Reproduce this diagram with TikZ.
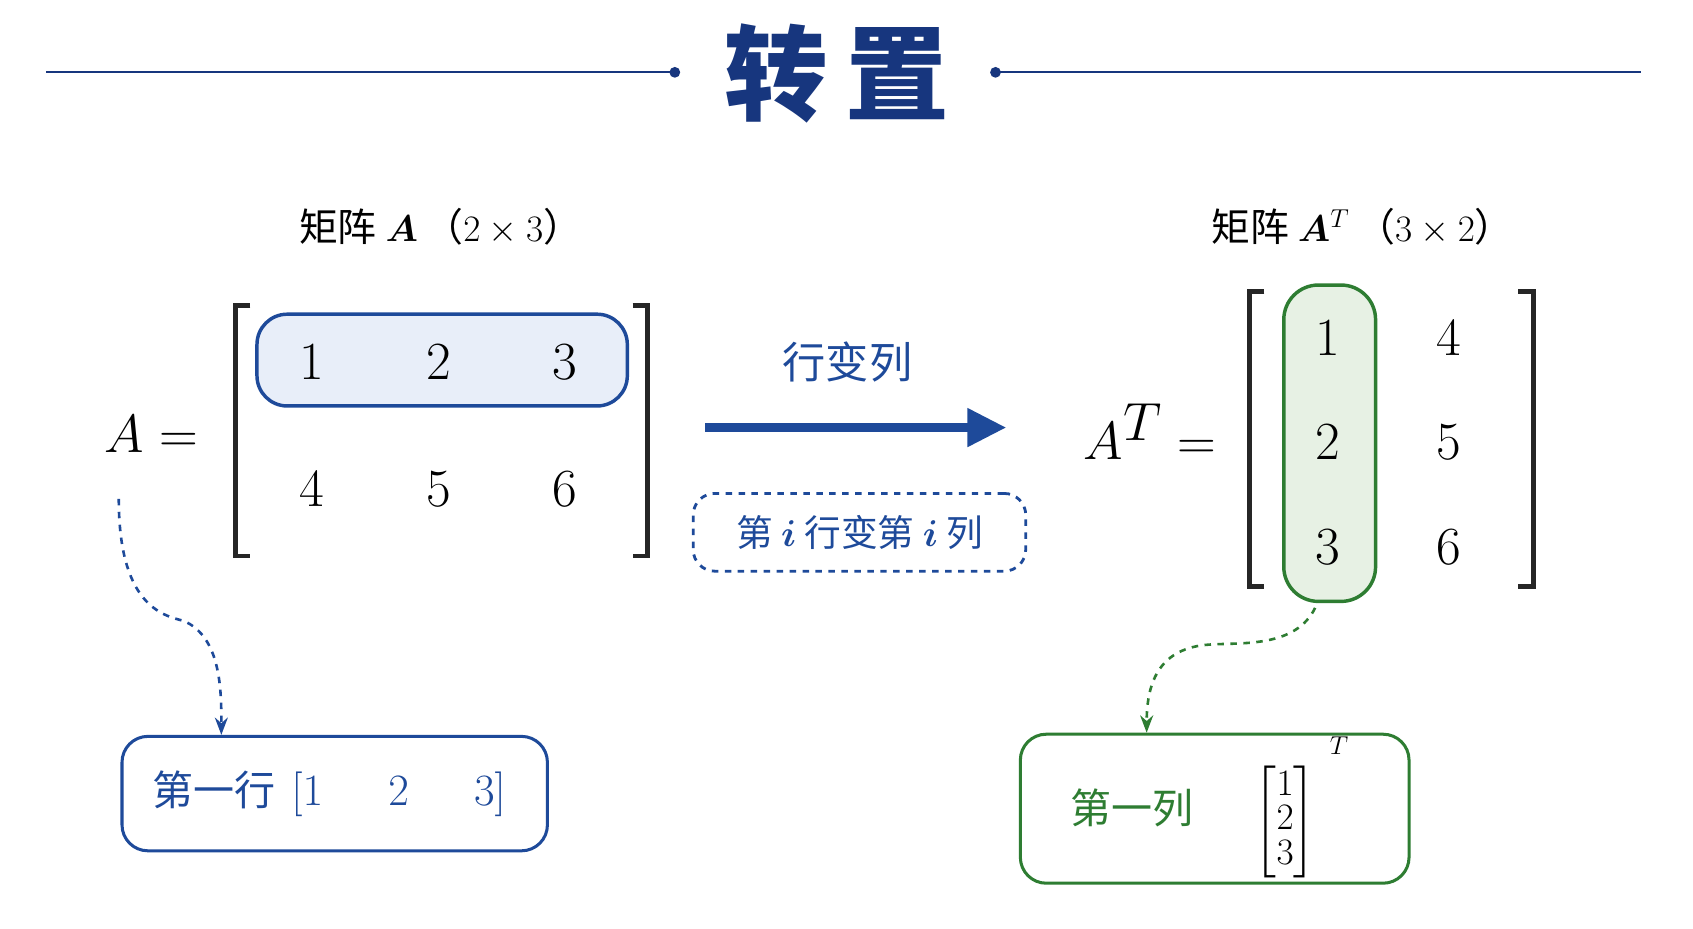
\documentclass[tikz,border=0pt]{standalone}
\usepackage{amsmath,bm}
\usepackage{fontspec}
\newfontfamily\cjk{Noto Sans CJK SC}
\usetikzlibrary{arrows.meta}
\definecolor{tblue}{HTML}{17367E}
\definecolor{mblue}{HTML}{1E4A9A}
\definecolor{lblue}{HTML}{E8EEF9}
\definecolor{mgreen}{HTML}{2E7D32}
\definecolor{lgreen}{HTML}{E7F1E4}
\newcommand{\fs}[1]{\fontsize{#1}{#1}\selectfont}
\let\boldsymbol\bm
\tikzset{
  dig/.style={font=\fs{37}},
  brk/.style={line width=2.2pt, black!85},
  lab/.style={font=\cjk\fs{18}},
}
\begin{document}
\begin{tikzpicture}[x=0.5pt,y=-0.5pt]
\useasboundingbox[fill=white] (0,0) rectangle (1568,860);
% title
\node (title) at (775,68) {\cjk\fs{48}\bfseries\color{tblue}转\,置};
\coordinate (l0) at (43,67); \coordinate (l1) at (625,67);
\coordinate (r0) at (922,67); \coordinate (r1) at (1520,67);
\draw[tblue, line width=1pt] (l0) -- (l1); \draw[tblue, line width=1pt] (r0) -- (r1);
\fill[tblue] (l1) circle (5); \fill[tblue] (r0) circle (5);
% labels
\node[lab] (la) at (408,210) {矩阵 $\boldsymbol{A}$\,（$2\times3$）};
\node[lab] (lb) at (1262,210) {矩阵 $\boldsymbol{A}^{T}$\,（$3\times2$）};
% left matrix
\node (Aeq) at (140,402) {\fs{34}$A=$};
\draw[brk] (232,283) -- (218,283) -- (218,515) -- (232,515);
\draw[brk] (586,283) -- (600,283) -- (600,515) -- (586,515);
\draw[mblue, fill=lblue, line width=1.6pt, rounded corners=14] (238,291) rectangle (581,376);
\foreach \v/\x/\y [count=\i] in {1/289/335,2/406/335,3/523/335,4/289/453,5/406/453,6/523/453}
  \node[dig] (a\i) at (\x,\y) {$\v$};
% arrow
\coordinate (ar0) at (653,396); \coordinate (ar1) at (932,396);
\draw[mblue, line width=4pt, -{Triangle[length=18pt,width=17pt]}] (ar0) -- (ar1);
\node (rc) at (785,335) {\cjk\fs{20}\color{mblue}行变列};
\node[draw=mblue, dashed, line width=1.3pt, rounded corners=10, minimum width=154pt, minimum height=36pt, text=mblue] (rule) at (796,493)
  {\cjk\fs{17}第 $\boldsymbol{i}$ 行变第 $\boldsymbol{i}$ 列};
% right matrix
\node (ATeq) at (1065,400) {\fs{34}$A^{T}=$};
\draw[brk] (1171,270) -- (1157,270) -- (1157,543) -- (1171,543);
\draw[brk] (1406,270) -- (1420,270) -- (1420,543) -- (1406,543);
\draw[mgreen, fill=lgreen, line width=1.6pt, rounded corners=16] (1189,264) rectangle (1274,557);
\foreach \v/\x/\y [count=\i] in {1/1230/313,4/1342/313,2/1230/410,5/1342/410,3/1230/507,6/1342/507}
  \node[dig] (b\i) at (\x,\y) {$\v$};
% bottom boxes
\node[draw=mblue, line width=1.4pt, rounded corners=12, minimum width=197pt, minimum height=53pt] (row) at (310,735) {};
\node[text=mblue, anchor=west] (rowt) at (134,735)
  {\cjk\fs{19}第一行\, \normalfont\fs{21}$[1\quad\;\, 2\quad\;\, 3]$};
\node[draw=mgreen, line width=1.4pt, rounded corners=12, minimum width=180pt, minimum height=69pt] (col) at (1125,749) {};
\node[text=mgreen] (colt) at (1048,748) {\cjk\fs{19}第一列};
\node (colm) at (1206,748) {\fs{17}$\left[\begin{matrix}1\\[-1pt]2\\[-1pt]3\end{matrix}\right]^{\raisebox{10pt}{$\scriptstyle\;\; T$}}$};
% dashed curves
\coordinate (s1) at (110,462);
\draw[mblue, dashed, line width=1.2pt, -{Stealth[length=8pt]}] (s1) .. controls (110,560) and (150,570) .. (170,575) .. controls (205,590) and (205,640) .. (row.north west -| 205,0);
\coordinate (s2) at (1218,563);
\draw[mgreen, dashed, line width=1.2pt, -{Stealth[length=8pt]}] (s2) .. controls (1200,600) and (1150,595) .. (1120,597) .. controls (1075,600) and (1062,630) .. (col.north west -| 1062,0);
\end{tikzpicture}
\end{document}
